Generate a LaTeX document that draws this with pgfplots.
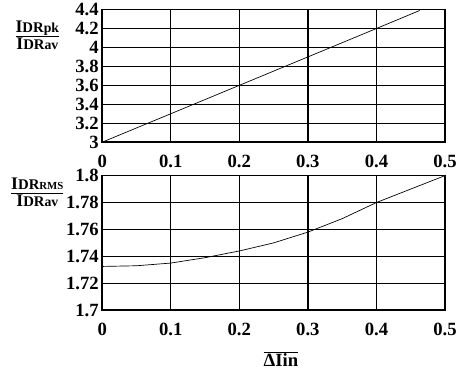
\documentclass[border=0pt]{standalone}
\usepackage{fontspec}
\setmainfont{Liberation Serif}
\usepackage{pgfplots}
\pgfplotsset{compat=1.18}
\begin{document}
\begin{tikzpicture}[x=1pt,y=1pt]
\path (0,0) rectangle (460,375);
\pgfplotsset{
  every axis/.append style={
    scale only axis, width=349pt,
    xmin=0, xmax=0.5, xtick={0,0.1,...,0.5},
    xticklabels={0,0.1,0.2,0.3,0.4,0.5},
    grid=major, major grid style={black, line width=1.4pt},
    axis line style={line width=1.6pt},
    tick style={draw=none},
    /pgf/number format/assume math mode=true,
    tick label style={font=\fontsize{19}{21}\selectfont\bfseries},
    xticklabel style={yshift=-10pt},
    yticklabel style={xshift=0pt},
    clip=true,
  }
}
\begin{axis}[at={(104pt,232pt)}, anchor=south west, height=135pt,
  ymin=3, ymax=4.4, ytick={3,3.2,...,4.41},
  yticklabels={3,3.2,3.4,3.6,3.8,4,4.2,4.4}]
\addplot[black, line width=0.7pt] coordinates {(0,3) (0.2,3.6) (0.4,4.2) (0.463,4.39)};
\end{axis}
\begin{axis}[at={(104pt,61pt)}, anchor=south west, height=137pt,
  ymin=1.7, ymax=1.8, ytick={1.7,1.72,1.74,1.76,1.78,1.8},
  yticklabels={1.7,1.72,1.74,1.76,1.78,1.8}]
\addplot[black, line width=0.7pt] coordinates {(0,1.7325) (0.05,1.733) (0.1,1.735) (0.15,1.739) (0.2,1.744) (0.25,1.750) (0.3,1.758) (0.35,1.768) (0.4,1.780) (0.45,1.790) (0.5,1.800)};
\end{axis}
\node[font=\bfseries] at (38,341) {$\displaystyle\frac{\mbox{\fontsize{18}{19}\selectfont I\fontsize{15}{16}\selectfont DR\fontsize{14}{15}\selectfont pk}}{\mbox{\fontsize{18}{19}\selectfont I\fontsize{15}{16}\selectfont DR\fontsize{14}{15}\selectfont av}}$};
\node[font=\bfseries] at (38,181) {$\displaystyle\frac{\mbox{\fontsize{18}{19}\selectfont I\fontsize{15}{16}\selectfont DR\fontsize{11}{12}\selectfont RMS}}{\mbox{\fontsize{18}{19}\selectfont I\fontsize{15}{16}\selectfont DR\fontsize{14}{15}\selectfont av}}$};
\node[font=\fontsize{19}{21}\selectfont\bfseries] at (286,11) {$\overline{\mbox{\bfseries ΔIin}}$};
\end{tikzpicture}
\end{document}
